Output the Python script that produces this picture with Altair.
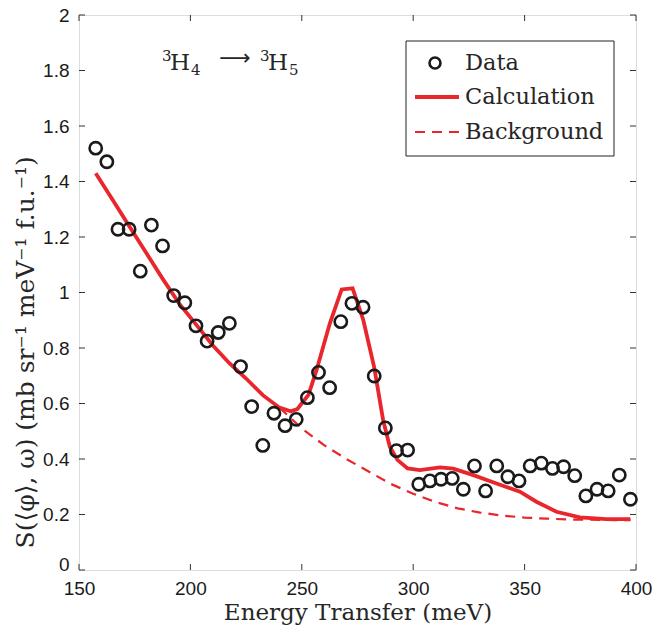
import altair as alt
import pandas as pd

# ---------------- data ----------------
data_x = [157.5, 162.5, 167.5, 172.5, 177.5, 182.5, 187.5, 192.5, 197.5, 202.5,
          207.5, 212.5, 217.5, 222.5, 227.5, 232.5, 237.5, 242.5, 247.5, 252.5,
          257.5, 262.5, 267.5, 272.5, 277.5, 282.5, 287.5, 292.5, 297.5, 302.5,
          307.5, 312.5, 317.5, 322.5, 327.5, 332.5, 337.5, 342.5, 347.5, 352.5,
          357.5, 362.5, 367.5, 372.5, 377.5, 382.5, 387.5, 392.5, 397.5]
data_y = [1.520, 1.471, 1.228, 1.228, 1.077, 1.243, 1.168, 0.989, 0.963, 0.880,
          0.825, 0.856, 0.889, 0.733, 0.589, 0.449, 0.565, 0.520, 0.543, 0.621,
          0.712, 0.657, 0.895, 0.961, 0.947, 0.699, 0.512, 0.430, 0.432, 0.309,
          0.321, 0.327, 0.330, 0.291, 0.375, 0.285, 0.375, 0.336, 0.321, 0.375,
          0.385, 0.366, 0.372, 0.340, 0.267, 0.291, 0.285, 0.342, 0.255]

calc_x = [157.5, 165, 172.5, 180, 187.5, 195, 202.5, 210, 217.5, 225, 232.5,
          240, 245, 248, 253, 256.6, 262.6, 267.9, 272.8, 277.6, 282.5, 286.5,
          289.5, 293, 297.5, 303, 312, 318, 327, 337.4, 347.9, 355.3, 364.3,
          374.8, 386.7, 397.5]
calc_y = [1.43, 1.335, 1.24, 1.145, 1.05, 0.96, 0.885, 0.81, 0.745, 0.69, 0.63,
          0.585, 0.572, 0.58, 0.631, 0.72, 0.889, 1.011, 1.015, 0.901, 0.73, 0.54,
          0.444, 0.396, 0.366, 0.36, 0.37, 0.365, 0.342, 0.312, 0.282, 0.246, 0.21,
          0.19, 0.183, 0.183]

bg_x = [240, 250, 260, 270, 280, 290, 300, 310, 320, 330, 340, 350, 360, 370,
        380, 390, 397.5]
bg_y = [0.585, 0.51, 0.45, 0.40, 0.355, 0.31, 0.275, 0.245, 0.222, 0.207, 0.196,
        0.189, 0.185, 0.182, 0.181, 0.18, 0.18]

x_ticks = [150, 200, 250, 300, 350, 400]
y_ticks = [0, 0.2, 0.4, 0.6, 0.8, 1, 1.2, 1.4, 1.6, 1.8, 2]

legend_labels = ["Data", "Calculation", "Background"]
annotation_parts = ["3", "H", "4", "⟶", "3", "H", "5"]
x_title = "Energy Transfer (meV)"
y_title = "S(⟨φ⟩, ω) (mb sr⁻¹ meV⁻¹ f.u.⁻¹)"

# ---------------- layout ----------------
W, H = 557, 555
RED = "#e8262b"
INK = "#1a1a1a"
TXT = "#262626"
SERIF = "DejaVu Serif"
SANS = "Liberation Sans"

df_data = pd.DataFrame({"x": data_x, "y": data_y})
df_calc = pd.DataFrame({"x": calc_x, "y": calc_y})
df_bg = pd.DataFrame({"x": bg_x, "y": bg_y})
df_xt = pd.DataFrame({"t": x_ticks})
df_yt = pd.DataFrame({"t": y_ticks})
one = pd.DataFrame({"a": [0]})

xs = alt.Scale(domain=[150, 400], nice=False, zero=False)
ys = alt.Scale(domain=[0, 2], nice=False, zero=False)

xaxis = alt.Axis(values=x_ticks, tickSize=0, labelPadding=9, labelFont=SANS,
                 labelFontSize=19, labelColor=INK, grid=False, domain=False,
                 title=x_title, titleFont=SERIF, titleFontSize=23,
                 titleFontWeight="normal", titleColor=TXT, titlePadding=3,
                 labelFlush=False)
yaxis = alt.Axis(values=y_ticks, tickSize=0, labelPadding=10, labelFont=SANS,
                 labelFontSize=19, labelColor=INK, grid=False, domain=False,
                 labelOffset={"condition": {"test": "datum.value === 0", "value": -6}, "value": 0},
                 title=y_title, titleFont=SERIF, titleFontSize=25,
                 titleFontWeight="normal", titleColor=TXT,
                 titleX=-54, titleY=533, titleAngle=270, titleAlign="left",
                 titleBaseline="middle", labelFlush=False,
                 labelExpr="datum.value == 0 ? '0' : datum.value == 1 ? '1' : datum.value == 2 ? '2' : format(datum.value, '.1f')")

bg = alt.Chart(df_bg).mark_line(color=RED, strokeWidth=2.2, strokeDash=[10, 7]).encode(
    x=alt.X("x:Q", scale=xs, axis=xaxis),
    y=alt.Y("y:Q", scale=ys, axis=yaxis),
)
calc = alt.Chart(df_calc).mark_line(color=RED, strokeWidth=3.8).encode(
    x=alt.X("x:Q", scale=xs), y=alt.Y("y:Q", scale=ys)
)
pts = alt.Chart(df_data).mark_point(shape="circle", filled=False, color=INK,
                                    strokeWidth=2.6, size=150, opacity=1).encode(
    x=alt.X("x:Q", scale=xs), y=alt.Y("y:Q", scale=ys)
)

tick_col = "#333333"
tb = alt.Chart(df_xt).mark_rule(color=tick_col, strokeWidth=1).encode(
    x=alt.X("t:Q", scale=xs), y=alt.value(H), y2=alt.value(H - 6))
tt = alt.Chart(df_xt).mark_rule(color=tick_col, strokeWidth=1).encode(
    x=alt.X("t:Q", scale=xs), y=alt.value(0), y2=alt.value(6))
tl = alt.Chart(df_yt).mark_rule(color=tick_col, strokeWidth=1).encode(
    y=alt.Y("t:Q", scale=ys), x=alt.value(0), x2=alt.value(6))
tr = alt.Chart(df_yt).mark_rule(color=tick_col, strokeWidth=1).encode(
    y=alt.Y("t:Q", scale=ys), x=alt.value(W), x2=alt.value(W - 6))

# annotation  ³H₄ → ³H₅ built from pieces (position, baseline, size, font)
ann_style = [(83, 46, 15, "left", "alphabetic", SERIF),
             (91, 55, 23, "left", "alphabetic", SERIF),
             (112, 60, 15, "left", "alphabetic", SERIF),
             (156, 43, 22, "center", "middle", "DejaVu Sans"),
             (181, 46, 15, "left", "alphabetic", SERIF),
             (189, 55, 23, "left", "alphabetic", SERIF),
             (210, 60, 15, "left", "alphabetic", SERIF)]
ann = []
for part, (px, py, fs, al, bl, fn) in zip(annotation_parts, ann_style):
    ann.append(alt.Chart(one).mark_text(text=part, font=fn, fontSize=fs, align=al,
                                        baseline=bl, color=TXT).encode(
        x=alt.value(px), y=alt.value(py)))

# legend
lx0, lx1, ly0, ly1 = 327, 535, 26, 141
leg_box = alt.Chart(one).mark_rect(fill="white", stroke="#222", strokeWidth=1).encode(
    x=alt.value(lx0), x2=alt.value(lx1), y=alt.value(ly0), y2=alt.value(ly1))
leg_pt = alt.Chart(one).mark_point(shape="circle", filled=False, color=INK,
                                   strokeWidth=2.6, size=120, opacity=1).encode(
    x=alt.value(356), y=alt.value(48))
leg_solid = alt.Chart(one).mark_rule(color=RED, strokeWidth=3.8).encode(
    x=alt.value(336), x2=alt.value(380), y=alt.value(82))
leg_dash = alt.Chart(one).mark_rule(color=RED, strokeWidth=2.2, strokeDash=[10, 7]).encode(
    x=alt.value(336), x2=alt.value(380), y=alt.value(117))
leg_text = []
for i, lab in enumerate(legend_labels):
    leg_text.append(alt.Chart(one).mark_text(text=lab, font=SERIF, fontSize=22.5,
                                             align="left", baseline="middle", color=TXT).encode(
        x=alt.value(386), y=alt.value([48, 82, 117][i])))

chart = alt.layer(bg, calc, pts, tb, tt, tl, tr, *ann, leg_box, leg_pt, leg_solid,
                  leg_dash, *leg_text).properties(
    width=W, height=H,
    padding={"left": 79, "top": 15, "right": 17, "bottom": 59},
    autosize=alt.AutoSizeParams(type="none"),
).configure_view(stroke="#222", strokeWidth=1.2).configure(background="white")

chart.save("out.html", embed_options={"renderer": "svg", "actions": False})
